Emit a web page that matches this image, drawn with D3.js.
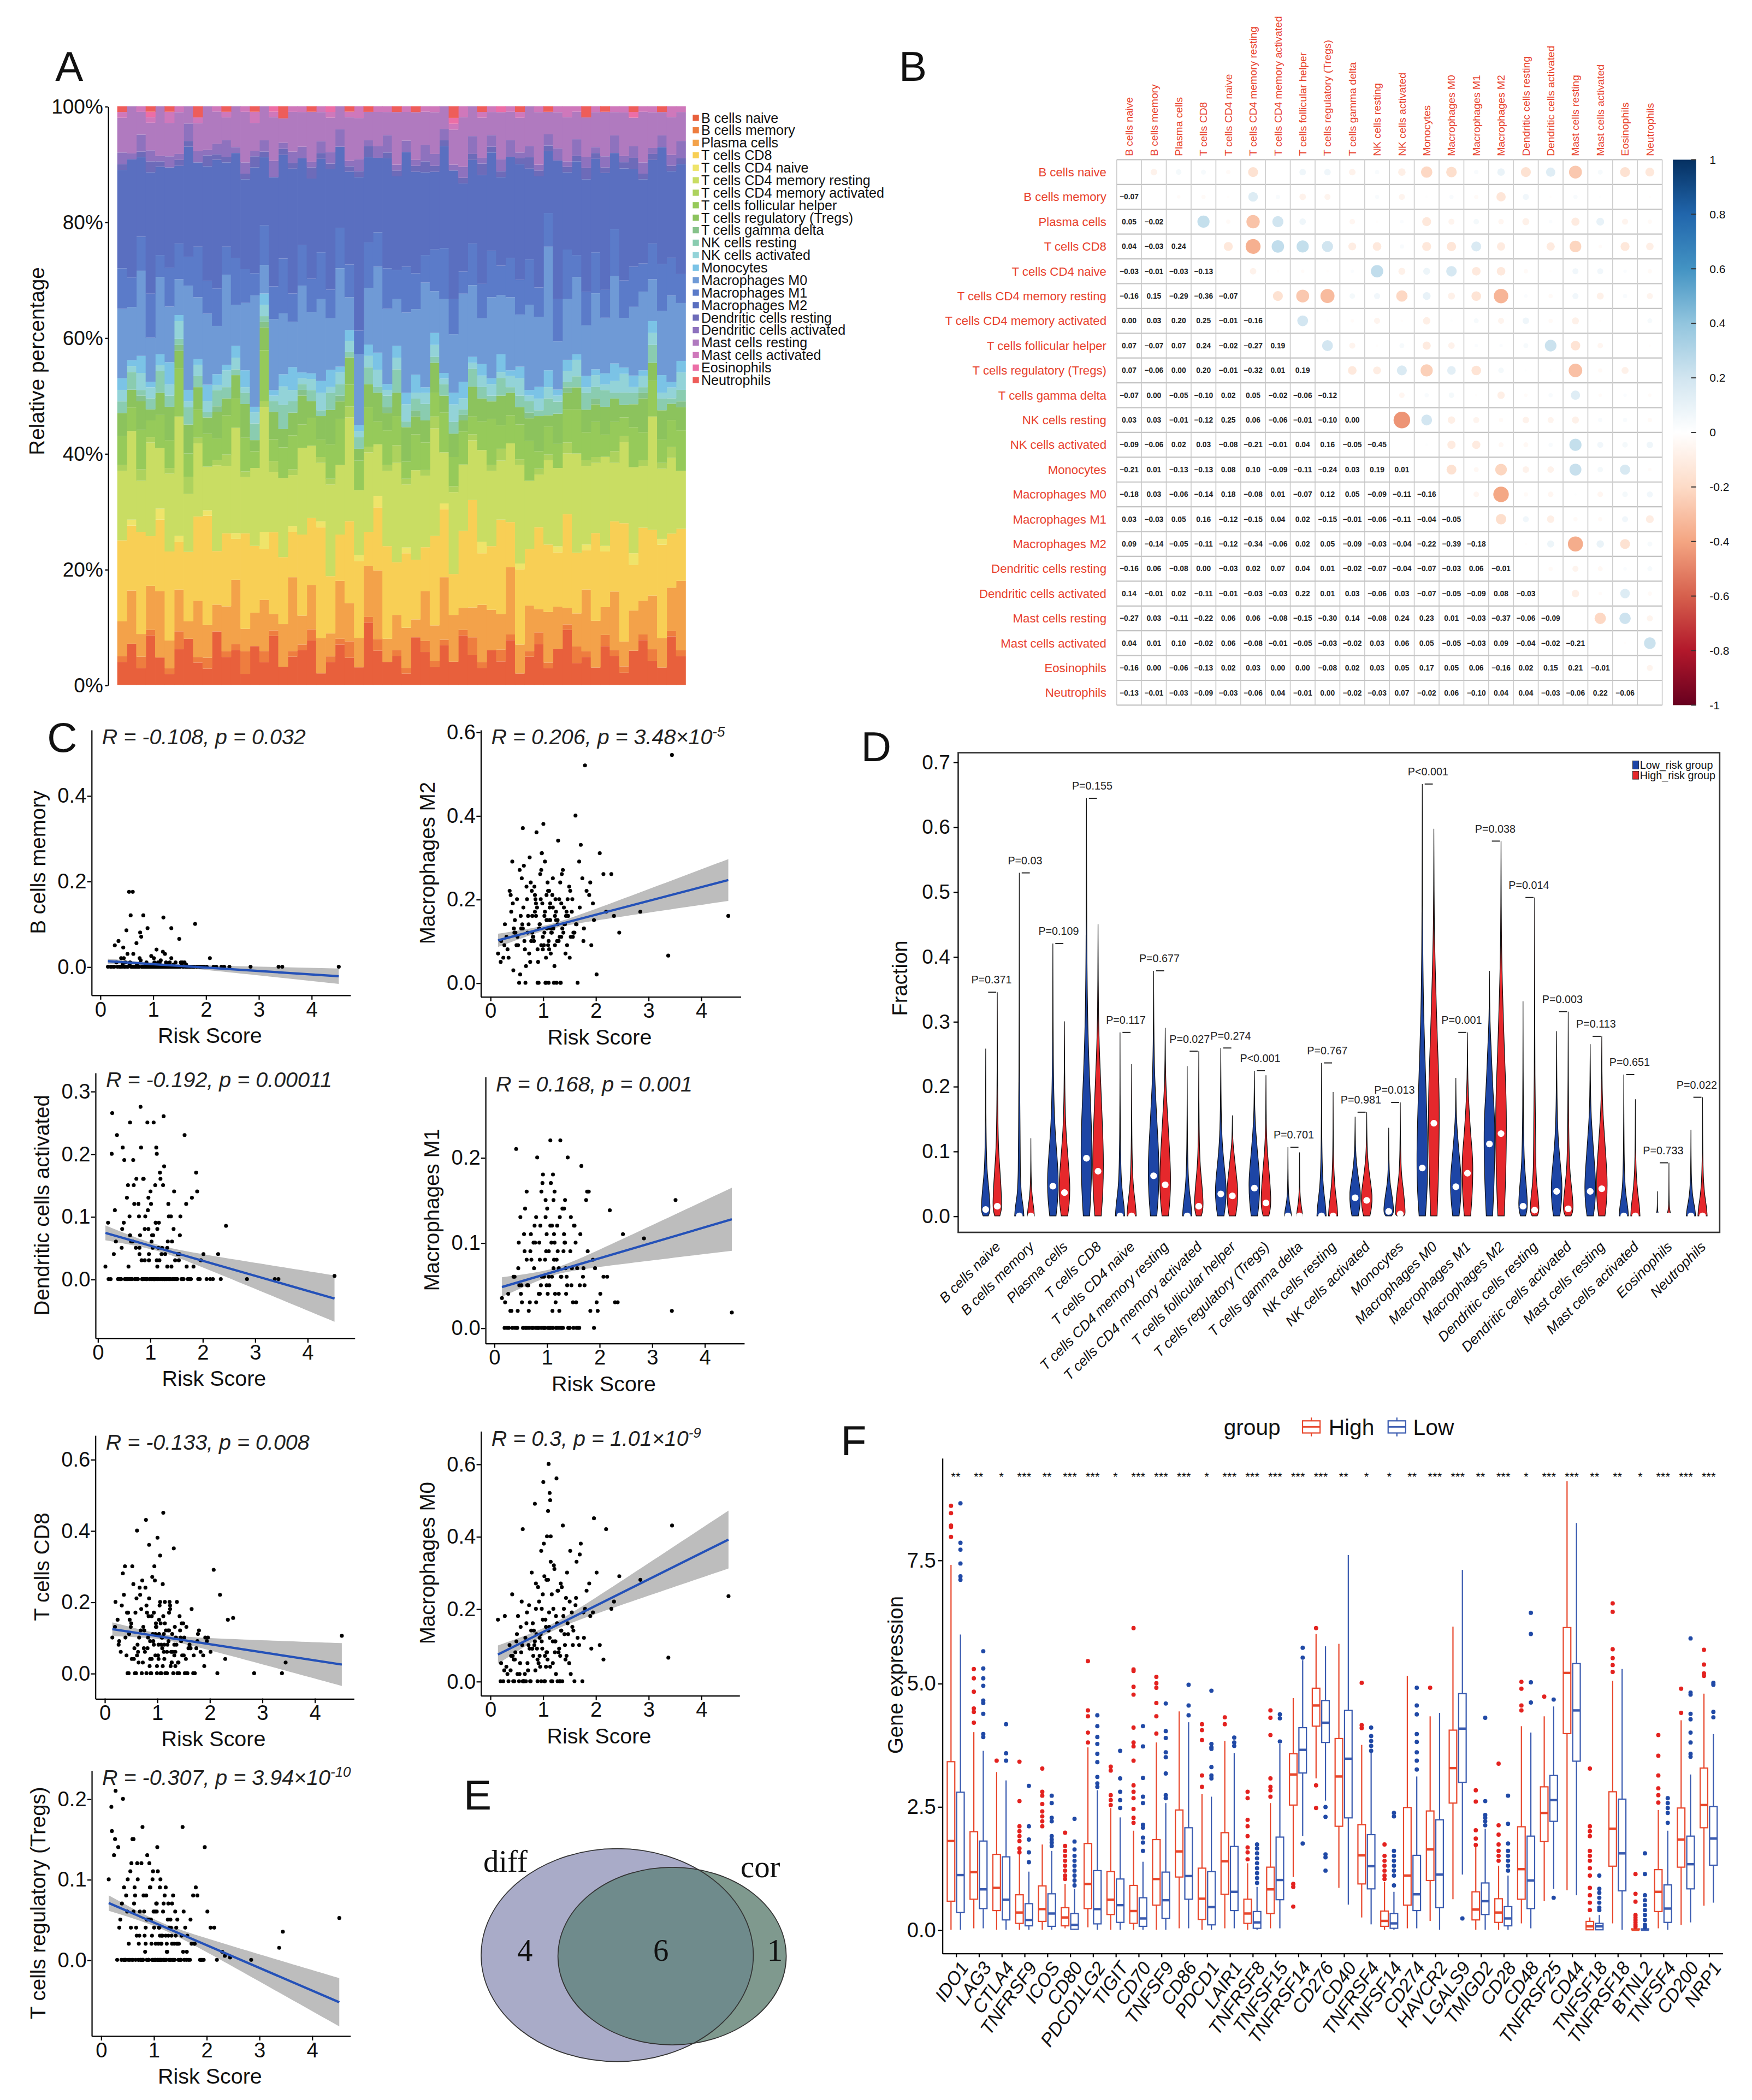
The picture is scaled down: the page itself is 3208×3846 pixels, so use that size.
<!DOCTYPE html>
<html lang="en">
<head>
<meta charset="UTF-8">
<title>Immune infiltration figure</title>
<script src="https://d3js.org/d3.v7.min.js"></script>
<style>
  body { margin: 0; background: #fff; }
  svg { display: block; }
</style>
</head>
<body>
<div id="container"></div>
<script>
// ---------- shared ----------
const cellTypes = ["B cells naive", "B cells memory", "Plasma cells", "T cells CD8", "T cells CD4 naive",
  "T cells CD4 memory resting", "T cells CD4 memory activated", "T cells follicular helper",
  "T cells regulatory (Tregs)", "T cells gamma delta", "NK cells resting", "NK cells activated",
  "Monocytes", "Macrophages M0", "Macrophages M1", "Macrophages M2", "Dendritic cells resting",
  "Dendritic cells activated", "Mast cells resting", "Mast cells activated", "Eosinophils", "Neutrophils"];

// ---------- A: per-sample fractions (%) ----------
const bNaive      = [4,7,3,9,5,2,6,8,4,3, 10,5,6,2,7,4,9,3,5,6, 8,2,4,7,5,3,11,6,4,5, 2,8,6,3,7,4,9,5,3,6, 4,8,2,5,7,3,6,10,4,5, 3,7,5,2,6,8,4,3,9,5];
const bMemory     = [1,0,2,1,0,1,3,0,1,2, 0,1,1,4,0,2,1,0,1,1, 2,0,1,1,3,0,1,2,0,1, 1,0,2,1,1,0,1,3,1,0, 2,1,0,1,2,1,0,1,3,1, 0,2,1,1,0,1,2,0,1,1];
const plasma      = [6,9,4,8,12,5,7,3,10,6, 5,8,11,4,6,9,3,7,13,5, 8,6,4,10,7,5,9,12,4,6, 7,3,9,6,11,8,4,5,10,7, 6,12,5,8,4,9,7,3,6,11, 8,5,10,4,7,6,9,5,8,12];
const tCD8        = [14,11,18,9,13,16,8,12,15,20, 10,13,7,17,12,9,15,11,8,14, 12,19,10,8,15,13,6,11,16,9, 13,10,8,15,12,7,14,18,9,11, 16,8,13,10,14,12,9,17,11,7, 15,10,12,19,8,13,11,16,10,9];
const tCD4Naive   = [0,1,0,0,2,0,1,0,0,1, 0,0,1,0,0,3,0,0,1,0, 0,1,0,0,0,1,0,2,0,0, 1,0,0,0,1,0,0,0,2,0, 0,0,1,0,0,0,1,0,0,1, 0,1,0,0,2,0,0,1,0,0];
const tCD4MemRest = [12,15,9,17,11,14,20,10,13,8, 16,12,18,10,14,22,11,13,9,15, 13,10,16,12,19,11,14,9,13,17, 11,15,13,18,9,14,12,10,16,13, 10,14,17,12,9,15,13,11,18,14, 12,16,10,13,15,11,19,12,14,10];
const tCD4MemAct  = [1,0,2,1,0,1,0,3,1,0, 1,2,0,1,0,1,2,0,1,0, 0,1,1,0,2,0,1,0,1,3, 1,0,1,2,0,1,0,1,0,1, 2,0,1,0,1,1,0,2,0,1, 1,0,2,1,0,1,0,1,2,0];
const tFH         = [5,4,7,3,6,5,8,4,5,6, 4,7,5,6,3,9,4,5,6,4, 5,3,6,8,4,5,7,4,6,5, 3,6,5,4,7,5,6,3,5,8, 4,5,6,7,3,5,4,6,8,5, 6,4,5,3,7,5,6,4,5,7];
const tRegs       = [4,3,5,2,4,6,3,5,4,3, 5,3,4,6,2,4,5,3,4,5, 3,4,6,3,5,2,4,5,3,4, 6,3,4,5,3,4,2,5,4,3, 5,4,3,4,6,2,5,3,4,4, 3,5,4,2,4,6,3,5,3,4];
const tGammaDelta = [0,0,1,0,0,0,1,0,0,0, 1,0,0,0,0,1,0,0,0,1, 0,0,0,1,0,0,0,0,1,0, 0,1,0,0,0,0,1,0,0,0, 0,0,0,1,0,0,0,1,0,0, 1,0,0,0,0,1,0,0,0,1];
const nkRest      = [2,3,1,2,4,2,1,3,2,1, 3,2,1,2,3,1,2,4,2,1, 2,1,3,2,1,2,3,1,2,4, 1,2,3,1,2,2,1,3,2,1, 3,1,2,2,1,3,2,1,2,3, 2,3,1,2,2,1,3,2,1,2];
const nkAct       = [2,1,3,2,1,2,3,1,2,2, 1,3,2,1,2,2,1,3,2,1, 2,3,1,2,2,1,2,3,1,2, 3,1,2,2,1,3,2,1,2,2, 1,2,3,1,2,2,1,2,3,1, 2,1,2,3,1,2,2,1,2,3];
const monocytes   = [2,1,3,1,2,4,1,2,1,3, 2,1,2,3,1,2,1,2,4,1, 1,2,3,1,2,1,2,3,1,2, 2,3,1,2,1,2,3,1,2,1, 3,1,2,1,2,3,1,2,1,2, 1,2,3,1,2,1,2,3,1,2];
const macM0       = [12,9,15,8,14,10,6,18,11,13, 9,16,7,12,20,5,13,10,8,15, 11,14,9,17,6,12,10,15,13,8, 14,11,19,7,13,10,16,12,8,14, 10,13,9,15,12,22,8,11,14,9, 13,10,15,8,12,14,7,11,16,10];
const macM1       = [7,5,6,8,4,7,6,5,9,6, 7,5,8,6,4,7,6,9,5,7, 6,8,5,7,6,4,8,6,7,5, 8,6,5,7,9,6,4,7,6,8, 5,7,6,8,5,6,7,9,4,6, 7,5,8,6,7,5,6,8,7,5];
const macM2       = [17,20,14,22,16,18,13,19,15,21, 24,15,18,16,19,12,20,17,22,15, 18,16,21,14,17,26,15,13,19,16, 20,17,15,13,18,22,16,14,19,17, 15,18,20,16,19,11,23,14,17,20, 16,21,13,18,17,15,14,20,16,19];
const dcRest      = [1,0,1,2,1,0,1,1,0,2, 1,1,0,1,2,1,0,1,1,0, 2,1,1,0,1,1,2,0,1,1, 0,1,2,1,1,0,1,1,2,1, 1,0,1,2,1,1,0,1,1,2, 1,1,0,1,2,1,1,0,1,1];
const dcAct       = [2,1,3,2,1,2,1,3,2,1, 2,3,1,2,1,2,3,1,2,2, 1,2,2,3,1,2,1,2,3,1, 2,1,3,2,2,1,2,3,1,2, 2,3,1,2,1,2,2,1,3,2, 1,2,3,1,2,2,1,2,2,3];
const mastRest    = [6,8,4,5,9,6,7,3,5,8, 6,4,7,9,5,6,8,4,7,6, 9,5,6,4,8,7,5,6,4,9, 5,8,6,7,4,6,9,5,7,4, 8,5,6,7,9,4,6,8,5,7, 6,8,4,7,5,9,6,4,7,5];
const mastAct     = [1,0,1,1,0,2,1,0,1,0, 1,1,0,1,2,0,1,0,1,1, 0,1,1,0,1,2,0,1,1,0, 1,0,1,1,0,1,2,0,1,1, 0,1,1,0,1,0,1,2,1,0, 1,0,1,1,0,1,1,0,2,1];
const eosinophils = [0,0,0,1,0,0,0,0,0,0, 0,0,0,0,0,0,1,0,0,0, 0,0,1,0,0,0,0,0,0,0, 0,0,0,0,0,1,0,0,0,0, 1,0,0,0,0,0,0,0,0,0, 0,0,0,0,1,0,0,0,0,0];
const neutrophils = [1,0,0,1,0,1,0,0,2,0, 0,1,0,0,1,0,0,2,0,0, 1,0,0,0,1,0,1,0,0,1, 0,1,0,0,0,2,0,0,1,0, 0,0,1,0,0,1,0,0,0,2, 0,1,0,0,1,0,0,1,0,0];
const stackSeries = [bNaive, bMemory, plasma, tCD8, tCD4Naive, tCD4MemRest, tCD4MemAct, tFH, tRegs,
  tGammaDelta, nkRest, nkAct, monocytes, macM0, macM1, macM2, dcRest, dcAct, mastRest, mastAct,
  eosinophils, neutrophils];
const stackColors = ["#e8603c", "#ee7d3f", "#f3a24a", "#f8cf55", "#efe46a", "#c9dd63", "#add25e", "#96ca5a",
  "#8cc35d", "#86c28a", "#8accb0", "#93d3d8", "#7bc3e6", "#6f9ad6", "#5b7bc9", "#5a6fc0", "#6d6bb9",
  "#8e72be", "#b07abf", "#cf78bb", "#ec6ea6", "#ee5d5a"];

// ---------- B: correlation matrix, lower triangle (row i, columns 0..i-1) ----------
const corrLower = [
  [],
  [-0.07],
  [0.05, -0.02],
  [0.04, -0.03, 0.24],
  [-0.03, -0.01, -0.03, -0.13],
  [-0.16, 0.15, -0.29, -0.36, -0.07],
  [0.00, 0.03, 0.20, 0.25, -0.01, -0.16],
  [0.07, -0.07, 0.07, 0.24, -0.02, -0.27, 0.19],
  [0.07, -0.06, 0.00, 0.20, -0.01, -0.32, 0.01, 0.19],
  [-0.07, 0.00, -0.05, -0.10, 0.02, 0.05, -0.02, -0.06, -0.12],
  [0.03, 0.03, -0.01, -0.12, 0.25, 0.06, -0.06, -0.01, -0.10, 0.00],
  [-0.09, -0.06, 0.02, 0.03, -0.08, -0.21, -0.01, 0.04, 0.16, -0.05, -0.45],
  [-0.21, 0.01, -0.13, -0.13, 0.08, 0.10, -0.09, -0.11, -0.24, 0.03, 0.19, 0.01],
  [-0.18, 0.03, -0.06, -0.14, 0.18, -0.08, 0.01, -0.07, 0.12, 0.05, -0.09, -0.11, -0.16],
  [0.03, -0.03, 0.05, 0.16, -0.12, -0.15, 0.04, 0.02, -0.15, -0.01, -0.06, -0.11, -0.04, -0.05],
  [0.09, -0.14, -0.05, -0.11, -0.12, -0.34, -0.06, 0.02, 0.05, -0.09, -0.03, -0.04, -0.22, -0.39, -0.18],
  [-0.16, 0.06, -0.08, 0.00, -0.03, 0.02, 0.07, 0.04, 0.01, -0.02, -0.07, -0.04, -0.07, -0.03, 0.06, -0.01],
  [0.14, -0.01, 0.02, -0.11, -0.01, -0.03, -0.03, 0.22, 0.01, 0.03, -0.06, 0.03, -0.07, -0.05, -0.09, 0.08, -0.03],
  [-0.27, 0.03, -0.11, -0.22, 0.06, 0.06, -0.08, -0.15, -0.30, 0.14, -0.08, 0.24, 0.23, 0.01, -0.03, -0.37, -0.06, -0.09],
  [0.04, 0.01, 0.10, -0.02, 0.06, -0.08, -0.01, -0.05, -0.03, -0.02, 0.03, 0.06, 0.05, -0.05, -0.03, 0.09, -0.04, -0.02, -0.21],
  [-0.16, 0.00, -0.06, -0.13, 0.02, 0.03, 0.00, 0.00, -0.08, 0.02, 0.03, 0.05, 0.17, 0.05, 0.06, -0.16, 0.02, 0.15, 0.21, -0.01],
  [-0.13, -0.01, -0.03, -0.09, -0.03, -0.06, 0.04, -0.01, 0.00, -0.02, -0.03, 0.07, -0.02, 0.06, -0.10, 0.04, 0.04, -0.03, -0.06, 0.22, -0.06]
];
const corrTicks = [1, 0.8, 0.6, 0.4, 0.2, 0, -0.2, -0.4, -0.6, -0.8, -1];
const corrPalette = ["#67001f", "#b2182b", "#d6604d", "#f4a582", "#fddbc7", "#ffffff",
  "#d1e5f0", "#92c5de", "#4393c3", "#2166ac", "#053061"];

// ---------- C: risk score vs fraction ----------
const riskScore = [0.21,0.35,0.42,0.48,0.55,0.58,0.62,0.66,0.70,0.73, 0.76,0.79,0.82,0.85,0.88,0.90,0.93,0.95,0.97,0.99,
  1.01,1.03,1.05,1.07,1.09,1.11,1.13,1.15,1.18,1.20, 1.23,1.26,1.29,1.32,1.35,1.38,1.42,1.46,1.50,1.55,
  1.60,1.66,1.72,1.80,1.88,1.97,2.08,2.20,2.45,2.85, 0.28,0.39,0.50,0.60,0.68,0.75,0.81,0.87,0.92,0.96,
  1.00,1.04,1.08,1.12,1.16,1.21,1.25,1.30,1.36,1.41, 1.47,1.53,1.62,1.70,1.78,1.90,2.02,2.15,2.35,3.45,
  0.15,0.45,0.64,0.78,0.89,0.98,1.06,1.14,1.24,1.33, 1.44,1.58,1.75,1.95,3.38,0.52,0.84,1.10,1.28,4.52,
  0.25,0.31,0.37,0.44,0.47,0.53,0.56,0.59,0.63,0.67, 0.71,0.74,0.77,0.80,0.83,0.86,0.91,0.94,0.98,1.02,
  1.04,1.06,1.08,1.10,1.12,1.14,1.17,1.19,1.22,1.25, 1.27,1.31,1.34,1.37,1.40,1.43,1.48,1.52,1.57,1.63,
  0.33,0.40,0.46,0.51,0.57,0.61,0.65,0.69,0.72,0.80, 0.87,0.90,0.94,0.97,1.00,1.03,1.07,1.11,1.15,1.19,
  1.23,1.28,1.33,1.39,1.45,1.51,1.56,1.64,1.69,1.77, 0.20,0.27,0.43,0.62,0.85,1.13,1.35,1.83,1.92,2.30];
const yBMemory = [0,0.06,0,0.01,0.175,0.12,0.175,0,0.005,0, 0.08,0,0.12,0,0.01,0.09,0,0,0.025,0,
  0,0.005,0,0.04,0,0,0.01,0,0,0.115, 0.03,0,0,0.01,0.09,0,0,0,0.065,0.005,
  0.01,0,0,0.1,0,0,0.02,0,0,0, 0.05,0,0.085,0,0,0.02,0,0.005,0,0,
  0,0,0.005,0,0,0,0.01,0,0,0, 0,0.01,0,0,0,0,0,0,0,0,
  0,0.02,0,0.07,0,0.005,0,0,0,0, 0,0,0,0,0,0.03,0,0,0.005,0,
  0,0.01,0,0.045,0,0,0.005,0,0.03,0, 0,0,0.015,0,0,0,0.005,0,0,0.02,
  0,0,0,0.01,0,0,0,0.035,0,0, 0,0.005,0,0,0,0.01,0,0,0,0.005,
  0,0.02,0,0,0.01,0,0,0.055,0,0, 0,0,0.005,0,0,0.01,0,0,0.015,0,
  0,0,0,0.005,0,0,0.01,0,0,0, 0,0,0.005,0,0,0,0.02,0,0,0];
const yMacM2 = [0.1,0.06,0.29,0.12,0,0.16,0.37,0.08,0.2,0.14, 0.05,0.22,0.11,0.17,0.36,0,0.13,0.26,0.09,0.19,
  0.38,0.12,0,0.15,0.24,0.1,0.18,0.07,0.21,0.13, 0.16,0,0.34,0.11,0.19,0.27,0.14,0.09,0.23,0.17,
  0.12,0,0.33,0.52,0.21,0.15,0.31,0.17,0.12,0.17, 0.14,0.21,0.09,0.25,0.04,0.3,0.11,0.16,0,0.2,
  0.08,0.29,0.15,0.22,0.12,0,0.17,0.1,0.26,0.14, 0.2,0.11,0.4,0.18,0.13,0.24,0.02,0.26,0.16,0.545,
  0.07,0.13,0.28,0.1,0.18,0.31,0.06,0.15,0.2,0, 0.16,0.12,0.25,0.19,0.065,0.11,0.23,0.09,0.14,0.16,
  0.06,0.11,0.22,0.03,0.15,0.09,0.27,0.13,0.18,0, 0.12,0.07,0.24,0.16,0.1,0.2,0.05,0.14,0.31,0.09,
  0.17,0,0.13,0.22,0.08,0.19,0.12,0.25,0.04,0.15, 0.1,0.2,0,0.13,0.18,0.07,0.16,0.22,0.11,0.14,
  0.08,0.17,0.12,0.2,0.02,0.14,0.1,0.23,0.16,0.12, 0.19,0.08,0.14,0.27,0.11,0.16,0.21,0,0.13,0.18,
  0.09,0.15,0.24,0.12,0.17,0.06,0.2,0.14,0.29,0.1, 0.05,0.09,0.19,0.13,0.21,0.15,0.11,0.22,0.09,0.26];
const yDCAct = [0,0.06,0,0.21,0,0.15,0.25,0,0.12,0.05, 0,0.1,0.275,0,0.16,0.03,0,0.25,0.08,0,
  0.14,0,0.05,0.25,0,0.09,0.2,0,0.03,0.16, 0,0.26,0.04,0,0.12,0,0.06,0.14,0,0.03,
  0,0.23,0,0.13,0.17,0.03,0,0,0.085,0, 0.265,0,0.09,0,0.19,0,0.07,0.16,0,0.11,
  0,0.07,0,0.21,0.05,0,0.15,0,0.1,0.02, 0,0.04,0,0.02,0,0.14,0.04,0,0,0,
  0.02,0,0.06,0.12,0,0.04,0,0.08,0,0.05, 0,0.1,0,0,0,0,0.03,0,0,0.005,
  0,0.04,0.23,0,0.08,0,0.13,0.02,0,0.06, 0,0.16,0,0.05,0.21,0,0.1,0,0.03,0.12,
  0,0.07,0,0.15,0,0.02,0.09,0,0.04,0, 0.18,0,0.06,0,0.1,0,0.03,0,0.07,0,
  0.11,0,0.05,0.19,0,0.1,0,0.15,0,0.04, 0,0.08,0,0.13,0,0.06,0,0.09,0,0.17,
  0.05,0,0.02,0,0.08,0,0.04,0,0.12,0, 0.09,0.2,0,0.07,0,0.03,0,0.02,0,0.04];
const yMacM1 = [0.03,0,0.21,0.05,0,0.09,0.16,0.02,0.11,0, 0.07,0,0.2,0.04,0.12,0,0.18,0.06,0,0.09,
  0.14,0,0.05,0.22,0.1,0,0.07,0.16,0,0.12, 0.04,0.22,0,0.09,0.15,0.06,0,0.13,0.03,0.1,
  0,0.19,0.05,0.16,0.08,0.02,0.06,0.138,0.11,0.105, 0,0.06,0.13,0,0.03,0.1,0,0.08,0.17,0,
  0.11,0.06,0,0.18,0.04,0.09,0,0.14,0.07,0, 0.05,0.12,0,0.07,0.09,0,0.04,0.06,0.03,0.15,
  0.035,0.02,0,0.1,0.05,0.13,0,0.08,0.02,0.11, 0,0.07,0.15,0.03,0.02,0.05,0,0.12,0.06,0.018,
  0,0.02,0.06,0,0.1,0.03,0,0.14,0.05,0, 0.08,0,0.12,0.03,0,0.1,0.06,0,0.15,0.04,
  0.09,0,0.17,0.06,0,0.11,0.03,0.08,0,0.13, 0.06,0,0.1,0.04,0.2,0,0.07,0.12,0,0.05,
  0.02,0,0.07,0.04,0.11,0,0.05,0.09,0,0.13, 0.04,0.16,0,0.08,0.05,0,0.12,0.02,0.1,0,
  0.07,0,0.14,0.05,0.09,0,0.03,0.11,0.06,0.16, 0,0.04,0,0.08,0,0.15,0.1,0.02,0.07,0.03];
const yTCD8 = [0.2,0.28,0.05,0.15,0.25,0,0.4,0.1,0.18,0.03, 0.12,0.43,0.07,0.21,0,0.16,0.09,0.3,0.05,0.13,
  0.38,0.04,0.19,0,0.1,0.25,0.06,0.14,0,0.08, 0.17,0.02,0.11,0.35,0.06,0.2,0,0.09,0.14,0.04,
  0.07,0.18,0,0.12,0.05,0.1,0.29,0.22,0.155,0, 0.09,0.3,0.13,0,0.22,0.07,0.17,0.04,0.11,0.26,
  0.02,0.15,0.08,0.45,0,0.12,0.19,0.06,0.1,0.03, 0.14,0,0.08,0.05,0.11,0.02,0.06,0,0.15,0.03,
  0.1,0.17,0.06,0.24,0,0.13,0.33,0.08,0.2,0.05, 0.12,0,0.07,0.09,0,0.04,0.16,0.1,0.03,0.105,
  0.15,0.06,0.22,0,0.11,0.3,0.04,0.17,0.08,0.24, 0,0.13,0.06,0.19,0.1,0.02,0.27,0.08,0.14,0.05,
  0.11,0.2,0,0.07,0.16,0.04,0.12,0,0.09,0.18, 0.06,0,0.13,0.08,0.03,0.16,0.05,0.1,0,0.07,
  0.19,0.1,0,0.14,0.07,0.21,0.03,0.12,0.26,0, 0.09,0.04,0.17,0.11,0,0.08,0.14,0.02,0.2,0.06,
  0.12,0.03,0.08,0,0.1,0.05,0.13,0.07,0,0.09, 0.13,0.08,0.17,0.05,0.36,0.11,0.02,0.06,0.1,0.04];
const yMacM0 = [0.05,0,0.24,0.08,0,0.15,0.42,0.02,0.19,0.1, 0,0.3,0.07,0.49,0.13,0,0.22,0.04,0.36,0.09,
  0.55,0,0.17,0.28,0.06,0.6,0.12,0.33,0,0.2, 0.08,0.56,0.25,0,0.14,0.43,0.1,0.3,0.05,0.19,
  0,0.12,0.38,0.2,0.27,0.45,0.1,0.42,0.29,0.28, 0.18,0.03,0.11,0.22,0,0.09,0.16,0.27,0.05,0.13,
  0.24,0.07,0.4,0.15,0,0.32,0.18,0.08,0.26,0.13, 0.16,0.02,0.21,0.35,0.12,0.18,0.3,0.06,0.22,0.43,
  0.17,0.06,0,0.14,0.09,0.2,0.04,0.5,0.11,0.07, 0.23,0.14,0,0.19,0.065,0.02,0.1,0.28,0,0.235,
  0,0.04,0.1,0,0.06,0.18,0.02,0.08,0,0.12, 0.05,0.21,0,0.09,0.14,0.03,0.26,0.07,0.11,0.38,
  0,0.15,0.08,0.47,0.19,0.04,0.24,0.11,0.31,0.02, 0.16,0.09,0.27,0,0.2,0.06,0.13,0.36,0.1,0.23,
  0.02,0.07,0,0.13,0.05,0.1,0,0.16,0.03,0.09, 0.2,0.06,0.12,0,0.17,0.29,0.08,0.14,0.4,0.05,
  0.11,0.25,0,0.18,0.07,0.22,0.15,0.33,0.1,0.19, 0,0.03,0.07,0,0.11,0.52,0.14,0.25,0.09,0.2];
const yTregs = [0.16,0.04,0.2,0.08,0,0.12,0.15,0,0.1,0.03, 0,0.165,0.06,0.02,0.13,0,0.09,0.05,0,0.11,
  0.04,0,0.07,0.14,0.02,0,0.1,0.03,0.06,0, 0.09,0.01,0,0.05,0.07,0,0.03,0.02,0,0.165,
  0.04,0,0.02,0.09,0,0.14,0.04,0,0.003,0, 0.21,0,0.06,0.15,0.03,0,0.08,0,0.12,0.02,
  0.06,0,0.11,0.03,0,0.08,0.01,0.04,0,0.06, 0,0.03,0,0.05,0.02,0,0.06,0.04,0.005,0.035,
  0.1,0,0.09,0,0.05,0,0.07,0.02,0,0.04, 0.02,0,0.08,0,0.015,0,0.01,0,0.03,0.052,
  0.13,0,0.05,0.09,0,0.02,0.11,0,0.07,0.04, 0,0.06,0.12,0,0.03,0.08,0,0.05,0.1,0,
  0.02,0.06,0,0.04,0.09,0,0.03,0.07,0,0.02, 0.05,0,0.03,0.08,0,0.04,0.02,0,0.06,0.01,
  0.14,0.07,0,0.1,0.04,0,0.08,0.12,0.02,0, 0.05,0,0.09,0.03,0,0.06,0,0.04,0.02,0,
  0.03,0.07,0,0.02,0.05,0,0.01,0.03,0,0.02, 0.19,0.15,0,0.06,0.04,0,0.02,0.08,0,0.01];
const scatterY = [yBMemory, yMacM2, yDCAct, yMacM1, yTCD8, yMacM0, yTregs];
const scatterNames = ["B cells memory", "Macrophages M2", "Dendritic cells activated", "Macrophages M1",
  "T cells CD8", "Macrophages M0", "T cells regulatory (Tregs)"];
const scatterR = ["-0.108", "0.206", "-0.192", "0.168", "-0.133", "0.3", "-0.307"];
const scatterP = ["0.032", "3.48×10", "0.00011", "0.001", "0.008", "1.01×10", "3.94×10"];
const scatterPExp = ["", "-5", "", "", "", "-9", "-10"];
const fitIntercept = [0.014, 0.0967, 0.0774, 0.0452, 0.127, 0.0627, 0.0748];
const fitSlope = [-0.008, 0.033, -0.024, 0.0182, -0.0227, 0.0727, -0.0282];
const ciMid = [0.003, 0.006, 0.005, 0.004, 0.008, 0.01, 0.004];
const ciEnd = [0.018, 0.05, 0.037, 0.037, 0.06, 0.08, 0.03];
const scatterYTicks = [[0, 0.2, 0.4], [0, 0.2, 0.4, 0.6], [0, 0.1, 0.2, 0.3], [0, 0.1, 0.2],
  [0, 0.2, 0.4, 0.6], [0, 0.2, 0.4, 0.6], [0, 0.1, 0.2]];

// ---------- D: violins (low / high risk) ----------
const lowMax  = [0.258,0.529,0.42,0.644,0.283,0.378,0.231,0.259,0.224,0.106,0.236,0.153,0.136,0.666,0.213,0.378,0.331,0.285,0.265,0.218,0.038,0.133];
const highMax = [0.345,0.12,0.30,0.45,0.234,0.29,0.254,0.155,0.217,0.098,0.191,0.16,0.175,0.597,0.283,0.578,0.491,0.315,0.277,0.18,0.082,0.183];
const lowMed  = [0.01,0,0.046,0.089,0,0.062,0,0.034,0.043,0,0,0.028,0.007,0.074,0.045,0.111,0.015,0.038,0.038,0,0,0];
const highMed = [0.015,0,0.036,0.069,0,0.048,0.015,0.031,0.02,0,0,0.024,0.003,0.143,0.066,0.127,0.009,0.011,0.042,0,0,0];
const lowBody  = [0.07,0.05,0.15,0.28,0.06,0.2,0.06,0.11,0.13,0.03,0.06,0.08,0.05,0.3,0.13,0.27,0.08,0.12,0.14,0.05,0.01,0.04];
const highBody = [0.1,0.04,0.13,0.25,0.06,0.18,0.08,0.1,0.1,0.03,0.06,0.08,0.06,0.38,0.17,0.35,0.06,0.07,0.15,0.06,0.015,0.05];
const lowWidth  = [0.8,0.8,1,1,0.8,1,0.8,1,1,0.6,0.8,1,0.9,1,1,1,0.8,1,1,0.8,0.2,0.8];
const highWidth = [0.8,0.6,1,1,0.8,1,0.8,1,0.9,0.5,0.8,1,0.9,1,1,1,0.8,0.9,1,0.8,0.3,0.8];
const pLabels = ["P=0.371","P=0.03","P=0.109","P=0.155","P=0.117","P=0.677","P=0.027","P=0.274","P<0.001",
  "P=0.701","P=0.767","P=0.981","P=0.013","P<0.001","P=0.001","P=0.038","P=0.014","P=0.003","P=0.113",
  "P=0.651","P=0.733","P=0.022"];

// ---------- E: venn ----------
const vennSets = ["diff", "cor"];
const vennCounts = [4, 6, 1];   // diff only, both, cor only

// ---------- F: checkpoint genes, [min, q1, median, q3, max] ----------
const genes = ["IDO1","LAG3","CTLA4","TNFRSF9","ICOS","CD80","PDCD1LG2","TIGIT","CD70","TNFSF9","CD86",
  "PDCD1","LAIR1","TNFRSF8","TNFSF15","TNFRSF14","CD276","CD40","TNFRSF4","TNFSF14","CD274","HAVCR2",
  "LGALS9","TMIGD2","CD28","CD48","TNFRSF25","CD44","TNFSF18","TNFRSF18","BTNL2","TNFSF4","CD200","NRP1"];
const stars = ["**","**","*","***","**","***","***","*","***","***","***","*","***","***","***","***","***",
  "**","*","*","**","***","***","**","***","*","***","***","**","**","*","***","***","***"];
const highBox = [[0,0.58,1.8,3.41,7.4],[0.03,0.62,1.17,1.99,4.01],[0,0.39,0.85,1.53,3.2],[0,0.13,0.35,0.71,1.55],
  [0,0.17,0.42,0.89,1.73],[0.03,0.08,0.25,0.45,0.93],[0.05,0.43,0.93,1.75,3.7],[0,0.31,0.61,1.18,2.47],
  [0,0.13,0.38,0.9,2.01],[0,0.5,1.03,1.83,3.8],[0.03,1.07,1.59,2.43,4.43],[0,0.21,0.63,1.25,2.75],
  [0.03,0.72,1.39,1.97,3.83],[0,0.13,0.33,0.62,1.35],[0.03,0.33,0.82,1.27,2.57],[1.07,2.53,3.15,3.57,4.7],
  [3.07,4.13,4.55,4.9,6.0],[0.85,2.1,3.11,3.88,5.8],[0.25,0.93,1.51,2.13,3.75],[0,0.07,0.18,0.38,0.97],
  [0.03,0.5,1.1,2.48,5.15],[0.18,1.0,1.63,2.41,4.33],[0.62,2.57,3.28,4.05,6.15],[0,0.2,0.41,0.77,1.68],
  [0,0.15,0.35,0.63,1.3],[0.13,0.62,1.23,2.09,4.13],[0.58,1.79,2.37,2.9,4.33],[0.8,3.98,5.21,6.13,9.1],
  [0,0,0.07,0.17,0.25],[0.13,1.29,2.05,2.8,5.05],[0,0,0,0.02,0.03],[0.03,0.37,0.77,1.22,2.43],
  [0.1,1.27,1.83,2.47,4.25],[0.49,2.07,2.53,3.28,4.79]];
const lowBox = [[0,0.35,1.11,2.79,5.99],[0.03,0.43,0.82,1.8,3.63],[0,0.2,0.61,1.48,3.03],[0,0.08,0.2,0.53,1.18],
  [0,0.07,0.33,0.73,1.6],[0,0.01,0.1,0.33,0.83],[0,0.12,0.42,1.2,2.83],[0,0.15,0.5,1.03,2.28],
  [0,0.07,0.23,0.65,1.38],[0,0.23,0.6,1.17,2.57],[0.03,0.62,1.09,2.07,4.21],[0,0.1,0.46,1.18,2.7],
  [0.03,0.39,0.77,1.69,3.58],[0,0.03,0.15,0.37,0.87],[0.03,0.61,1.01,1.88,3.77],[1.9,3.18,3.65,4.1,5.47],
  [2.62,3.8,4.2,4.65,5.75],[0.51,2.27,3.47,4.45,7.6],[0.11,0.83,1.29,1.93,3.6],[0,0.03,0.13,0.33,0.77],
  [0.03,0.39,0.72,1.51,3.11],[0,0.45,1.12,2.23,4.4],[1.12,2.99,4.08,4.79,7.3],[0,0.31,0.58,0.95,2.05],
  [0,0.08,0.23,0.47,1.1],[0.03,0.43,1.0,1.9,4.0],[0.83,2.2,2.63,3.13,4.53],[0.7,3.42,4.45,5.4,8.25],
  [0,0,0.07,0.13,0.3],[0,0.79,1.55,2.65,5.29],[0,0,0,0.02,0.03],[0,0.15,0.43,0.91,2.01],
  [0.15,0.83,1.33,1.9,3.15],[0.55,1.31,1.85,2.5,3.97]];
const highOut = [[8.6,8.45,8.2,8.17,7.97],[5.29,5.1,4.83,4.49,4.42,4.2],[3.43],[3.41,2.61,2.1,2.0,1.9,1.8,1.65,1.57],
  [3.27,2.8,2.72,2.55,2.4,2.3,2.2,2.1],[1.97,1.7,1.6,1.5,1.4,1.3,1.2,1.1,1.03],[5.45,4.45,4.33,4.0,3.8],
  [3.31,3.23,2.73,2.63,2.53],[6.12,5.28,5.25,4.93,4.77,4.1,3.8,3.72,3.43,2.93,2.8,2.67,2.45,2.27,2.17],
  [5.13,5.0,4.91,4.6,4.33,3.98],[],[4.17,4.05,3.85,3.13,2.9],[4.31,4.17],[2.8,2.67,2.23,2.1,1.9,1.67,1.57,1.43],
  [4.45,4.3,3.95,3.07,2.9,2.83,2.7],[0.93,0.87,0.47],[6.12,2.93,2.47],[],[5.01,4.15,4.09],
  [1.73,1.5,1.4,1.3,1.2,1.1,1.03],[],[4.91],[],[2.83,2.6,2.02,1.85,1.72],[3.37,2.12,1.93,1.73,1.6,1.5,1.4],
  [5.03,4.89,4.55,4.45],[4.73],[],[3.27,2.1,2.0,1.9,1.6,1.5,1.4,1.25,1.1,0.85,0.7,0.55,0.4],
  [6.62,6.45,5.69,5.51,5.37,5.23],[1.13,0.73,0.57,0.3,0.25,0.2,0.15,0.1,0.06],[3.95,3.53,3.13,2.87,2.73,2.58],
  [4.89,4.4],[5.68,5.38,5.2,5.15]];
const lowOut = [[8.65,7.85,7.71,7.43,7.17,7.1],[5.65,5.3,5.1,4.95,4.65,4.6,4.38,3.97,3.91],[4.17,3.58,3.43],
  [2.92,2.1,1.83,1.57,1.37],[2.72,2.57,2.27,2.2,1.9,1.83,1.77,1.7],[2.25,1.79,1.63,1.5,1.4,1.3,1.2,1.1,1.0,0.9],
  [4.35,4.13,3.91,3.77,3.57,3.4,3.1,2.97,2.9],[3.63,3.07,2.8,2.63,2.47],[4.13,3.72,3.08,2.7,2.57,2.13,2.07,1.87,1.77,1.6],
  [4.59,4.03,3.89,3.6,3.5,3.17,2.73,2.67],[4.97,4.55,4.35],[4.85,3.77,3.7,3.67,3.3,3.13,3.07],[3.9,3.8,3.73],
  [1.73,1.65,1.55,1.45,1.35,1.25,1.15,1.05,0.95],[4.37,4.29,3.82],[5.72,5.52,1.75],[2.49,2.29,1.53,1.47,1.2],[],
  [4.1,3.93,3.83,3.73,3.63],[2.37,2.3,1.6,1.5,1.4,1.3,1.2,1.1,0.9],[4.91,4.55,4.37,3.97,3.81,3.6,3.43,3.25],[],
  [0.23],[4.3,2.61,2.33,2.27,2.2,2.12],[2.72,2.15,1.75,1.6,1.5,1.4,1.3,1.2],[6.43,6.0,5.02,4.61],[4.67,0.65],[],
  [1.1,0.83,0.75,0.65,0.55,0.45,0.4],[],[1.55,1.13,0.7,0.6,0.5,0.4,0.3,0.2,0.1,0.05],[2.67,2.57,2.47,2.37,2.17],
  [5.91,4.81,4.77,4.38,4.27,4.0,3.8,3.57,3.51],[5.01,4.97,4.42,4.31]];

// ================= drawing =================
const FONT = '"Liberation Sans", Arial, Helvetica, sans-serif';
const SERIF = '"Liberation Serif", "Times New Roman", serif';

const svg = d3.select("#container").append("svg")
  .attr("width", 3208).attr("height", 3846)
  .attr("viewBox", "0 0 1300 1558.5")
  .attr("font-family", FONT);
svg.append("rect").attr("width", 1300).attr("height", 1558.5).attr("fill", "#fff");
const defs = svg.append("defs");

function styleAxis(g, size) {
  g.attr("font-size", size).attr("font-family", FONT);
  g.selectAll("path.domain, .tick line").attr("stroke", "#000").attr("stroke-width", 0.9);
  g.selectAll("text").attr("fill", "#111");
}
function panelLetter(t, x, y) {
  svg.append("text").attr("x", x).attr("y", y).attr("font-size", 31).attr("fill", "#111").text(t);
}

// ---------- A ----------
panelLetter("A", 41, 60);
{
  const n = bNaive.length;
  const rows = d3.range(n).map(i => {
    const o = {};
    cellTypes.forEach((c, j) => { o[c] = stackSeries[j][i]; });
    return o;
  });
  const layers = d3.stack().keys(cellTypes).offset(d3.stackOffsetExpand)(rows);
  const x = d3.scaleBand().domain(d3.range(n)).range([87, 508.6]);
  const y = d3.scaleLinear().domain([0, 1]).range([508.4, 78.8]);
  const color = d3.scaleOrdinal().domain(cellTypes).range(stackColors);
  const g = svg.append("g");
  g.selectAll("g").data(layers).join("g").attr("fill", d => color(d.key))
    .selectAll("rect").data(d => d).join("rect")
    .attr("x", (d, i) => x(i)).attr("width", x.bandwidth() + 0.3)
    .attr("y", d => y(d[1])).attr("height", d => Math.max(0, y(d[0]) - y(d[1])));

  const ax = g.append("g").attr("transform", "translate(80,0)")
    .call(d3.axisLeft(y).tickValues([0, 0.2, 0.4, 0.6, 0.8, 1]).tickFormat(d3.format(".0%"))
      .tickSize(2).tickSizeOuter(0).tickPadding(1.5));
  styleAxis(ax, 15);
  g.append("text").attr("transform", "translate(33,268) rotate(-90)").attr("text-anchor", "middle")
    .attr("font-size", 15.7).attr("fill", "#111").text("Relative percentage");

  const lg = g.append("g");
  cellTypes.forEach((c, i) => {
    const yy = 87.4 + i * 9.27;
    lg.append("rect").attr("x", 514).attr("y", yy - 2.3).attr("width", 4.6).attr("height", 4.6).attr("fill", color(c));
    lg.append("text").attr("x", 520.3).attr("y", yy).attr("dy", "0.35em").attr("font-size", 10.2)
      .attr("fill", "#111").text(c);
  });
}

// ---------- B ----------
panelLetter("B", 667, 60);
{
  const cs = 18.4, gx0 = 828.6, gy0 = 118.5, n = cellTypes.length;
  const band = d3.scaleBand().domain(cellTypes).range([gx0, gx0 + n * cs]);
  const rowBand = d3.scaleBand().domain(cellTypes).range([gy0, gy0 + n * cs]);
  const col = d3.scaleLinear().domain([-1, -0.8, -0.6, -0.4, -0.2, 0, 0.2, 0.4, 0.6, 0.8, 1]).range(corrPalette);
  const rad = d3.scaleSqrt().domain([0, 1]).range([0, cs / 2]);
  const g = svg.append("g");
  g.append("rect").attr("x", gx0).attr("y", gy0).attr("width", n * cs).attr("height", n * cs).attr("fill", "#fff");
  d3.range(n + 1).forEach(k => {
    g.append("line").attr("x1", gx0 + k * cs).attr("x2", gx0 + k * cs).attr("y1", gy0).attr("y2", gy0 + n * cs)
      .attr("stroke", "#cfcfcf").attr("stroke-width", 0.7);
    g.append("line").attr("y1", gy0 + k * cs).attr("y2", gy0 + k * cs).attr("x1", gx0).attr("x2", gx0 + n * cs)
      .attr("stroke", "#c4c4c4").attr("stroke-width", 0.9);
  });
  const cells = [];
  corrLower.forEach((row, i) => row.forEach((r, j) => cells.push({ i, j, r })));
  const fmt = d3.format(".2f");
  // lower triangle: numbers
  g.selectAll("text.num").data(cells).join("text").attr("class", "num")
    .attr("x", d => band(cellTypes[d.j]) + cs / 2).attr("y", d => rowBand(cellTypes[d.i]) + cs / 2)
    .attr("dy", "0.35em").attr("text-anchor", "middle").attr("font-size", 5.6).attr("font-weight", "bold")
    .attr("fill", "#222").text(d => fmt(d.r));
  // upper triangle: circles
  g.selectAll("circle").data(cells.filter(d => d.r !== 0)).join("circle")
    .attr("cx", d => band(cellTypes[d.i]) + cs / 2).attr("cy", d => rowBand(cellTypes[d.j]) + cs / 2)
    .attr("r", d => rad(Math.abs(d.r))).attr("fill", d => col(d.r));
  // labels
  g.selectAll("text.rowlab").data(cellTypes).join("text").attr("class", "rowlab")
    .attr("x", gx0 - 7.6).attr("y", d => rowBand(d) + cs / 2).attr("dy", "0.35em")
    .attr("text-anchor", "end").attr("font-size", 9).attr("fill", "#e8412c").text(d => d);
  g.selectAll("text.collab").data(cellTypes).join("text").attr("class", "collab")
    .attr("transform", d => `translate(${band(d) + cs / 2},${gy0 - 2.7}) rotate(-90)`).attr("dy", "0.35em")
    .attr("font-size", 7.8).attr("fill", "#e8412c").text(d => d);
  // colour bar
  const cb = d3.scaleLinear().domain([-1, 1]).range([gy0 + n * cs, gy0]);
  const grad = defs.append("linearGradient").attr("id", "corrGrad")
    .attr("x1", 0).attr("y1", 1).attr("x2", 0).attr("y2", 0);
  corrPalette.forEach((c, k) => grad.append("stop").attr("offset", k / 10).attr("stop-color", c));
  g.append("rect").attr("x", 1241.3).attr("y", gy0).attr("width", 17.2).attr("height", n * cs).attr("fill", "url(#corrGrad)");
  corrTicks.forEach(v => {
    g.append("line").attr("x1", 1254.8).attr("x2", 1258.5).attr("y1", cb(v)).attr("y2", cb(v))
      .attr("stroke", "#333").attr("stroke-width", 0.8);
    g.append("text").attr("x", 1268.5).attr("y", cb(v)).attr("dy", "0.35em").attr("font-size", 8.5)
      .attr("fill", "#111").text(v);
  });
}

// ---------- C ----------
panelLetter("C", 35, 558);
{
  const layout = [
    { l: 67.7, t: 541.5, r: 259.8, b: 738.4, y0: -0.066, y1: 0.554, x0: -0.166, x1: 4.735 },
    { l: 356.5, t: 541.5, r: 549.4, b: 739.5, y0: -0.0326, y1: 0.6055, x0: -0.184, x1: 4.75 },
    { l: 70.6, t: 796, r: 263, b: 992.9, y0: -0.0938, y1: 0.3297, x0: -0.046, x1: 4.9 },
    { l: 360, t: 799, r: 552, b: 996.8, y0: -0.0179, y1: 0.2949, x0: -0.169, x1: 4.75 },
    { l: 70.5, t: 1065, r: 262.4, b: 1260.5, y0: -0.0707, y1: 0.668, x0: -0.18, x1: 4.745 },
    { l: 356.6, t: 1061.9, r: 548.5, b: 1258.2, y0: -0.039, y1: 0.6915, x0: -0.179, x1: 4.723 },
    { l: 67.8, t: 1313.8, r: 259.7, b: 1510.8, y0: -0.0942, y1: 0.2355, x0: -0.179, x1: 4.723 }
  ];
  const xExt = d3.extent(riskScore);
  const xMean = d3.mean(riskScore);
  layout.forEach((p, k) => {
    const g = svg.append("g");
    const x = d3.scaleLinear().domain([p.x0, p.x1]).range([p.l, p.r]);
    const y = d3.scaleLinear().domain([p.y0, p.y1]).range([p.b, p.t]);
    const a = fitIntercept[k], b = fitSlope[k];
    const c = Math.sqrt(ciEnd[k] ** 2 - ciMid[k] ** 2) / (xExt[1] - xMean);
    const half = xv => Math.sqrt(ciMid[k] ** 2 + (c * (xv - xMean)) ** 2);
    const grid = d3.range(41).map(s => xExt[0] + (xExt[1] - xExt[0]) * s / 40);
    g.append("path").datum(grid)
      .attr("d", d3.area().x(xv => x(xv)).y0(xv => y(a + b * xv - half(xv))).y1(xv => y(a + b * xv + half(xv))))
      .attr("fill", "#bdbdbd");
    g.selectAll("circle").data(riskScore).join("circle")
      .attr("cx", d => x(d)).attr("cy", (d, i) => y(scatterY[k][i])).attr("r", 1.45).attr("fill", "#000");
    g.append("line").attr("x1", x(xExt[0])).attr("x2", x(xExt[1]))
      .attr("y1", y(a + b * xExt[0])).attr("y2", y(a + b * xExt[1]))
      .attr("stroke", "#2451b8").attr("stroke-width", 1.7);
    const gx = g.append("g").attr("transform", `translate(0,${p.b})`)
      .call(d3.axisBottom(x).tickValues([0, 1, 2, 3, 4]).tickFormat(d3.format("d")).tickSize(3.5).tickSizeOuter(0).tickPadding(1.5));
    styleAxis(gx, 15.5);
    const gy = g.append("g").attr("transform", `translate(${p.l},0)`)
      .call(d3.axisLeft(y).tickValues(scatterYTicks[k]).tickFormat(d3.format(".1f")).tickSize(3).tickSizeOuter(0).tickPadding(0.5));
    styleAxis(gy, 15.5);
    g.append("text").attr("x", (p.l + p.r) / 2 - 8).attr("y", p.b + 30).attr("dy", "0.35em")
      .attr("text-anchor", "middle").attr("font-size", 16).attr("fill", "#111").text("Risk Score");
    g.append("text").attr("transform", `translate(${p.l - 34},${(p.t + p.b) / 2}) rotate(-90)`)
      .attr("text-anchor", "middle").attr("font-size", 15.6).attr("fill", "#111").text(scatterNames[k]);
    const lab = g.append("text").attr("x", p.l + 8).attr("y", p.t + 11).attr("font-size", 16)
      .attr("font-style", "italic").attr("fill", "#222");
    lab.append("tspan").text(`R = ${scatterR[k]}, p = ${scatterP[k]}`);
    if (scatterPExp[k]) lab.append("tspan").attr("dy", -6).attr("font-size", 10.5).text(scatterPExp[k]);
  });
}

// ---------- D ----------
panelLetter("D", 639, 565);
{
  const dL = 711, dR = 1276, dT = 558.6, dB = 914.6;
  const g = svg.append("g");
  const y = d3.scaleLinear().domain([-0.0253, 0.7143]).range([dB, dT]);
  const x = d3.scalePoint().domain(cellTypes).range([735.7, 1259]);
  const off = 4.3;
  const nudge = { 6: -2.5, 7: 3 };   // keep the two crowded P labels apart
  g.append("rect").attr("x", dL).attr("y", dT).attr("width", dR - dL).attr("height", dB - dT)
    .attr("fill", "none").attr("stroke", "#333").attr("stroke-width", 1.1);
  const ay = g.append("g").attr("transform", `translate(${dL},0)`)
    .call(d3.axisLeft(y).tickValues([0, 0.1, 0.2, 0.3, 0.4, 0.5, 0.6, 0.7]).tickFormat(d3.format(".1f"))
      .tickSize(3.5).tickSizeOuter(0).tickPadding(2.5));
  styleAxis(ay, 15);
  ay.select("path.domain").remove();
  g.append("text").attr("transform", "translate(673,726) rotate(-90)").attr("text-anchor", "middle")
    .attr("font-size", 15.5).attr("fill", "#111").text("Fraction");

  const knots = (max, med, body, wf) => {
    const W = off * wf;
    const k = med > 0
      ? [[0, 0.55], [med * 0.5, 0.85], [med * 1.3, 1], [body * 0.7, 0.6], [body, 0.25], [body + (max - body) * 0.3, 0.06], [max, 0]]
      : [[0, 1], [body * 0.25, 0.9], [body * 0.6, 0.5], [body, 0.22], [body + (max - body) * 0.3, 0.05], [max, 0]];
    return k.sort((p, q) => p[0] - q[0]).map(([v, w]) => [v, w * W]);
  };
  const sides = [
    { mx: lowMax, md: lowMed, bd: lowBody, wd: lowWidth, dx: -off, fill: "#1d45a5" },
    { mx: highMax, md: highMed, bd: highBody, wd: highWidth, dx: off, fill: "#e5282c" }
  ];
  cellTypes.forEach((c, i) => {
    sides.forEach(s => {
      const cx = x(c) + s.dx;
      const pts = knots(s.mx[i], s.md[i], s.bd[i], s.wd[i]);
      g.append("path").datum(pts)
        .attr("d", d3.area().curve(d3.curveBasis).y(d => y(d[0])).x0(d => cx - d[1]).x1(d => cx + d[1]))
        .attr("fill", s.fill).attr("stroke", "#111").attr("stroke-width", 0.5);
      g.append("circle").attr("cx", cx).attr("cy", y(s.md[i])).attr("r", 2.5).attr("fill", "#fff");
    });
    const top = Math.max(lowMax[i], highMax[i]);
    g.append("line").attr("x1", x(c) - 2.5).attr("x2", x(c) + 3.5).attr("y1", y(top)).attr("y2", y(top))
      .attr("stroke", "#222").attr("stroke-width", 0.8);
    g.append("text").attr("x", x(c) + (nudge[i] || 0)).attr("y", y(top + 0.019)).attr("dy", "0.35em")
      .attr("text-anchor", "middle").attr("font-size", 8).attr("fill", "#222").text(pLabels[i]);
    g.append("text").attr("transform", `translate(${x(c) + 2},${dB + 6}) rotate(-45)`).attr("dy", "0.72em")
      .attr("text-anchor", "end").attr("font-size", 10.5).attr("font-style", "italic").attr("fill", "#111").text(c);
  });
  [["Low_risk group", "#1d45a5"], ["High_risk group", "#e5282c"]].forEach(([t, f], k) => {
    const yy = 567.7 + k * 7.6;
    g.append("rect").attr("x", 1211.5).attr("y", yy - 3).attr("width", 4.5).attr("height", 6).attr("fill", f)
      .attr("stroke", "#111").attr("stroke-width", 0.3);
    g.append("text").attr("x", 1216.8).attr("y", yy).attr("dy", "0.35em").attr("font-size", 8).attr("fill", "#111").text(t);
  });
}

// ---------- E ----------
panelLetter("E", 344, 1343);
{
  const g = svg.append("g");
  const diff = { cx: 458, cy: 1451, rx: 101, ry: 79 };
  const cor = { cx: 498.7, cy: 1451.7, rx: 84.7, ry: 65.9 };
  defs.append("clipPath").attr("id", "diffClip").append("ellipse")
    .attr("cx", diff.cx).attr("cy", diff.cy).attr("rx", diff.rx).attr("ry", diff.ry);
  const ell = (e, fill) => g.append("ellipse").attr("cx", e.cx).attr("cy", e.cy).attr("rx", e.rx).attr("ry", e.ry).attr("fill", fill);
  ell(diff, "#a9abc8");
  ell(cor, "#7f998e");
  ell(cor, "#6f8b8c").attr("clip-path", "url(#diffClip)");
  ell(diff, "none").attr("stroke", "#333").attr("stroke-width", 0.7);
  ell(cor, "none").attr("stroke", "#333").attr("stroke-width", 0.7);
  const st = (t, x, y, anchor) => g.append("text").attr("x", x).attr("y", y).attr("text-anchor", anchor || "start")
    .attr("font-family", SERIF).attr("font-size", 23).attr("fill", "#111").text(t);
  st(vennSets[0], 358.6, 1389);
  st(vennSets[1], 549.5, 1393);
  st(vennCounts[0], 389.5, 1455, "middle");
  st(vennCounts[1], 490.4, 1455, "middle");
  st(vennCounts[2], 575, 1455, "middle");
}

// ---------- F ----------
panelLetter("F", 624, 1080);
{
  const fL = 699, fR = 1278, fT = 1082, fB = 1449.5;
  const g = svg.append("g");
  const y = d3.scaleLinear().domain([-0.473, 9.571]).range([fB, fT]);
  const x = d3.scalePoint().domain(genes).range([fL, fR]).padding(0.6);
  const ay = g.append("g").attr("transform", `translate(${fL},0)`)
    .call(d3.axisLeft(y).tickValues([0, 2.5, 5, 7.5]).tickFormat(d3.format(".1f")).tickSize(3).tickSizeOuter(0).tickPadding(1.5));
  styleAxis(ay, 15.5);
  const ax = g.append("g").attr("transform", `translate(0,${fB})`)
    .call(d3.axisBottom(x).tickSize(3).tickSizeOuter(0).tickFormat(""));
  styleAxis(ax, 13);
  g.append("text").attr("transform", "translate(670,1243) rotate(-90)").attr("text-anchor", "middle")
    .attr("font-size", 15.5).attr("fill", "#111").text("Gene expression");

  const groups = [
    { box: highBox, out: highOut, dx: -3.5, line: "#e8472c", dot: "#e3221f" },
    { box: lowBox, out: lowOut, dx: 3.5, line: "#3a5bb0", dot: "#2049a6" }
  ];
  const bw = 5.6;
  genes.forEach((gname, i) => {
    groups.forEach(s => {
      const cx = x(gname) + s.dx;
      const [lo, q1, md, q3, hi] = s.box[i];
      g.append("line").attr("x1", cx).attr("x2", cx).attr("y1", y(hi)).attr("y2", y(q3)).attr("stroke", s.line).attr("stroke-width", 0.9);
      g.append("line").attr("x1", cx).attr("x2", cx).attr("y1", y(q1)).attr("y2", y(lo)).attr("stroke", s.line).attr("stroke-width", 0.9);
      g.append("rect").attr("x", cx - bw / 2).attr("y", y(q3)).attr("width", bw).attr("height", Math.max(0.6, y(q1) - y(q3)))
        .attr("fill", "#fff").attr("stroke", s.line).attr("stroke-width", 0.9);
      g.append("line").attr("x1", cx - bw / 2).attr("x2", cx + bw / 2).attr("y1", y(md)).attr("y2", y(md))
        .attr("stroke", s.line).attr("stroke-width", 1.8);
      g.selectAll(null).data(s.out[i]).join("circle").attr("cx", cx).attr("cy", d => y(d)).attr("r", 1.6).attr("fill", s.dot);
    });
    g.append("text").attr("x", x(gname)).attr("y", 1099).attr("text-anchor", "middle").attr("font-size", 9)
      .attr("fill", "#111").text(stars[i]);
    g.append("text").attr("transform", `translate(${x(gname) + 2},${fB + 5}) rotate(-55)`).attr("dy", "0.72em")
      .attr("text-anchor", "end").attr("font-size", 13.8).attr("font-style", "italic").attr("fill", "#111").text(gname);
  });
  // legend
  g.append("text").attr("x", 908).attr("y", 1059).attr("dy", "0.35em").attr("font-size", 16.5).attr("fill", "#111").text("group");
  [["High", "#e8472c", 966.5, 985.8], ["Low", "#3a5bb0", 1030, 1048.6]].forEach(([t, c, bx, tx]) => {
    g.append("line").attr("x1", bx + 6.5).attr("x2", bx + 6.5).attr("y1", 1052).attr("y2", 1066).attr("stroke", c).attr("stroke-width", 0.9);
    g.append("rect").attr("x", bx).attr("y", 1054.5).attr("width", 13).attr("height", 9).attr("fill", "#fff")
      .attr("stroke", c).attr("stroke-width", 0.9);
    g.append("line").attr("x1", bx).attr("x2", bx + 13).attr("y1", 1059).attr("y2", 1059).attr("stroke", c).attr("stroke-width", 1.2);
    g.append("text").attr("x", tx).attr("y", 1059).attr("dy", "0.35em").attr("font-size", 16.5).attr("fill", "#111").text(t);
  });
}
</script>
</body>
</html>
